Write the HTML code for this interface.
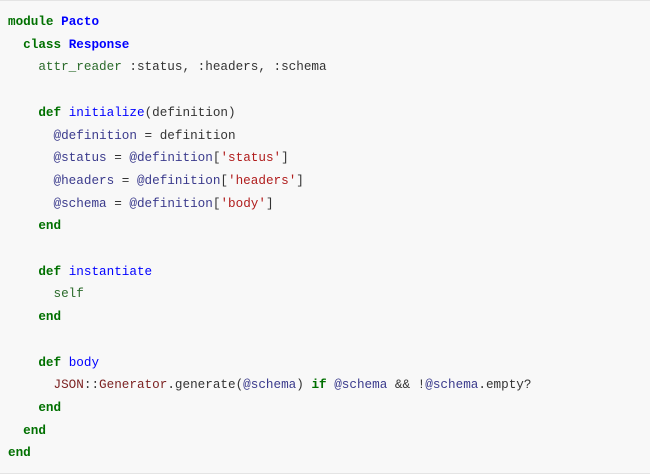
<!DOCTYPE html>
<html><head><meta charset="utf-8"><style>
html,body{margin:0;padding:0;background:#fff;}
.box{position:absolute;left:0;top:0;width:650px;height:474px;background:#f8f8f8;border-top:1px solid #e4e4e4;border-bottom:1px solid #e4e4e4;box-sizing:border-box;}
pre{position:absolute;left:8px;top:10px;margin:0;font-family:"Liberation Mono","DejaVu Sans Mono",monospace;font-size:12.65px;line-height:22.7px;color:#333;}
.k{color:#007000;font-weight:bold}
.c{color:#0000ff;font-weight:bold}
.m{color:#0000ff}
.v{color:#3a3a8c}
.s{color:#b01c1c}
.n{color:#7a1f1f}
.g{color:#2a6a2a}
</style></head><body><div class="box"><pre><span class="k">module</span> <span class="c">Pacto</span>
  <span class="k">class</span> <span class="c">Response</span>
    <span class="g">attr_reader</span> :status, :headers, :schema

    <span class="k">def</span> <span class="m">initialize</span>(definition)
      <span class="v">@definition</span> = definition
      <span class="v">@status</span> = <span class="v">@definition</span>[<span class="s">'status'</span>]
      <span class="v">@headers</span> = <span class="v">@definition</span>[<span class="s">'headers'</span>]
      <span class="v">@schema</span> = <span class="v">@definition</span>[<span class="s">'body'</span>]
    <span class="k">end</span>

    <span class="k">def</span> <span class="m">instantiate</span>
      <span class="g">self</span>
    <span class="k">end</span>

    <span class="k">def</span> <span class="m">body</span>
      <span class="n">JSON</span>::<span class="n">Generator</span>.generate(<span class="v">@schema</span>) <span class="k">if</span> <span class="v">@schema</span> &amp;&amp; !<span class="v">@schema</span>.empty?
    <span class="k">end</span>
  <span class="k">end</span>
<span class="k">end</span></pre></div></body></html>
